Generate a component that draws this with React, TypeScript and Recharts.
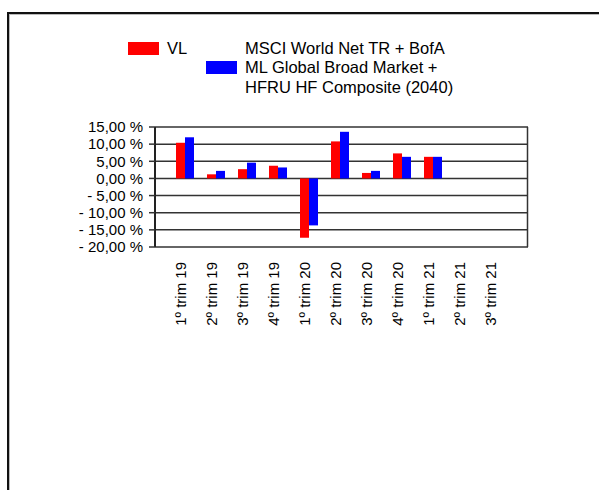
import * as React from "react";
import {
  BarChart,
  Bar,
  XAxis,
  YAxis,
  CartesianGrid,
} from "recharts";

const quarters = [
  "1º trim 19",
  "2º trim 19",
  "3º trim 19",
  "4º trim 19",
  "1º trim 20",
  "2º trim 20",
  "3º trim 20",
  "4º trim 20",
  "1º trim 21",
  "2º trim 21",
  "3º trim 21",
];

const vl = [10.4, 1.2, 2.7, 3.7, -17.3, 10.8, 1.6, 7.3, 6.3, null, null];
const benchmark = [12.0, 2.2, 4.6, 3.2, -13.7, 13.6, 2.2, 6.3, 6.3, null, null];

const yTicks = [-20, -15, -10, -5, 0, 5, 10, 15];

const chartData = quarters.map((q, i) => ({
  name: q,
  vl: vl[i],
  bench: benchmark[i],
}));

const FONT = "'Liberation Sans', Arial, sans-serif";

function fmtPct(v: number) {
  const s = Math.abs(v).toFixed(2).replace(".", ",");
  return (v < 0 ? "- " : "") + s + " %";
}

function XTick(props: any) {
  const { x, y, payload } = props;
  const tx = x + 1.5;
  return (
    <text
      x={tx}
      y={y}
      transform={`rotate(-90, ${tx}, ${y})`}
      textAnchor="end"
      fontSize={15}
      fill="#000"
    >
      {payload.value}
    </text>
  );
}

export default function App() {
  return (
    <div
      style={{
        position: "absolute",
        left: 0,
        top: 0,
        width: 599,
        height: 490,
        overflow: "hidden",
        background: "#fff",
        fontFamily: FONT,
      }}
    >
      {/* frame, only top and left edges are visible */}
      <div
        style={{
          position: "absolute",
          left: 7,
          top: 12,
          width: 700,
          height: 600,
          border: "2px solid #111",
          boxShadow: "inset 1px 1px 0 #bbb",
        }}
      />

      <BarChart
        width={599}
        height={490}
        data={chartData}
        margin={{ top: 127, right: 71, left: 0, bottom: 163 }}
        barGap={0}
        barSize={9}
        style={{ position: "absolute", left: 0, top: 0 }}
      >
        <CartesianGrid
          vertical={false}
          stroke="#333"
          strokeWidth={1.5}
          strokeOpacity={1}
        />
        {/* right edge of the plot box */}
        <CartesianGrid
          horizontal={false}
          verticalPoints={[527.5]}
          stroke="#333"
          strokeWidth={1.5}
          strokeOpacity={1}
        />
        <XAxis
          dataKey="name"
          interval={0}
          axisLine={false}
          tickLine={false}
          tickSize={0}
          tickMargin={15}
          height={80}
          padding={{ left: 14, right: 18 }}
          tick={<XTick />}
        />
        <YAxis
          width={155}
          domain={[-20, 15]}
          ticks={yTicks}
          interval={0}
          tickFormatter={fmtPct}
          tickSize={6}
          tickMargin={6}
          axisLine={{ stroke: "#222", strokeWidth: 2 }}
          tickLine={{ stroke: "#333", strokeWidth: 1.5 }}
          tick={{ fontSize: 15, fill: "#000" }}
        />
        <Bar dataKey="vl" fill="#ff0000" isAnimationActive={false} />
        <Bar dataKey="bench" fill="#0000ff" isAnimationActive={false} />
      </BarChart>

      {/* legend */}
      <div style={{ position: "absolute", left: 128, top: 42, width: 31, height: 13, background: "#ff0000" }} />
      <div style={{ position: "absolute", left: 167, top: 38.5, fontSize: 16.5, lineHeight: "19.5px", color: "#000" }}>
        VL
      </div>
      <div style={{ position: "absolute", left: 206, top: 61, width: 31, height: 13, background: "#0000ff" }} />
      <div style={{ position: "absolute", left: 245, top: 38.5, fontSize: 16.5, lineHeight: "19.5px", color: "#000", whiteSpace: "nowrap" }}>
        MSCI World Net TR + BofA
        <br />
        ML Global Broad Market +
        <br />
        HFRU HF Composite (2040)
      </div>
    </div>
  );
}
